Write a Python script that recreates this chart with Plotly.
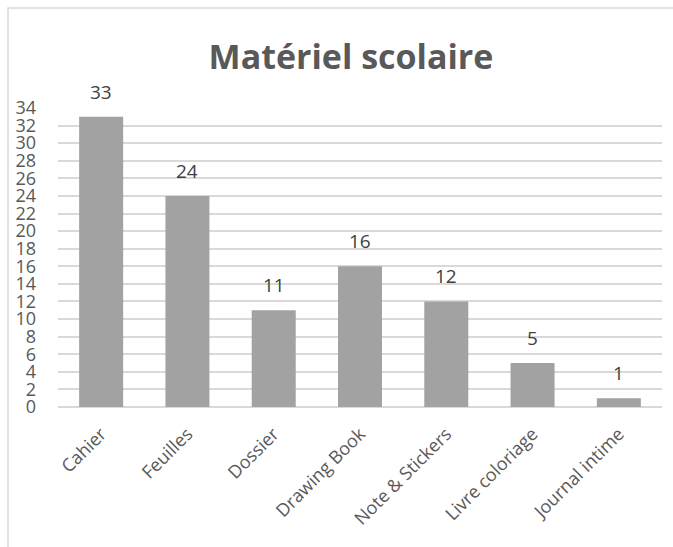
import plotly.graph_objects as go

CATEGORIES = ["Cahier", "Feuilles", "Dossier", "Drawing Book",
              "Note & Stickers", "Livre coloriage", "Journal intime"]
COUNTS = [33, 24, 11, 16, 12, 5, 1]
Y_TICKS = list(range(0, 35, 2))

GREY = "#595959"
GRID = "#d9d9d9"
FONT = "Open Sans"

fig = go.Figure(
    go.Bar(
        x=CATEGORIES,
        y=COUNTS,
        marker=dict(color="#a2a2a2", line=dict(width=0)),
        width=0.51,
        hoverinfo="x+y",
    )
)

# value labels sit well above each bar, as in the Excel original
for cat, val in zip(CATEGORIES, COUNTS):
    fig.add_annotation(
        x=cat, y=val, text=str(val), showarrow=False,
        yanchor="middle", yshift=25,
        font=dict(size=19, color="#404040", family=FONT),
    )

fig.update_layout(
    width=673,
    height=547,
    plot_bgcolor="white",
    paper_bgcolor="white",
    font=dict(family=FONT, color=GREY),
    margin=dict(l=58, r=11, t=108, b=140),
    showlegend=False,
    title=dict(
        text="<b>Matériel scolaire</b>",
        x=(351 - 58) / 604,
        xanchor="center",
        xref="paper",
        y=1 - 57 / 547,
        yref="container",
        yanchor="middle",
        font=dict(size=34, color=GREY, family=FONT),
    ),
    shapes=[
        dict(type="rect", xref="paper", yref="paper",
             x0=-50 / 604, x1=1.2, y0=-1, y1=1 + 100 / 299,
             line=dict(color=GRID, width=1.5), layer="below"),
    ],
)

fig.update_yaxes(
    range=[0, 34],
    tickvals=Y_TICKS,
    showgrid=True,
    gridcolor=GRID,
    gridwidth=1.5,
    zeroline=True,
    zerolinecolor=GRID,
    zerolinewidth=1.5,
    showline=False,
    ticklabelstandoff=21,
    tickfont=dict(size=18, color=GREY),
)
fig.update_xaxes(
    tickangle=-45,
    showline=False,
    ticklabelstandoff=12,
    tickfont=dict(size=18, color=GREY),
)

fig.write_html(
    "out.html",
    config={"displayModeBar": False},
    post_script="document.body.style.margin='0';",
)
